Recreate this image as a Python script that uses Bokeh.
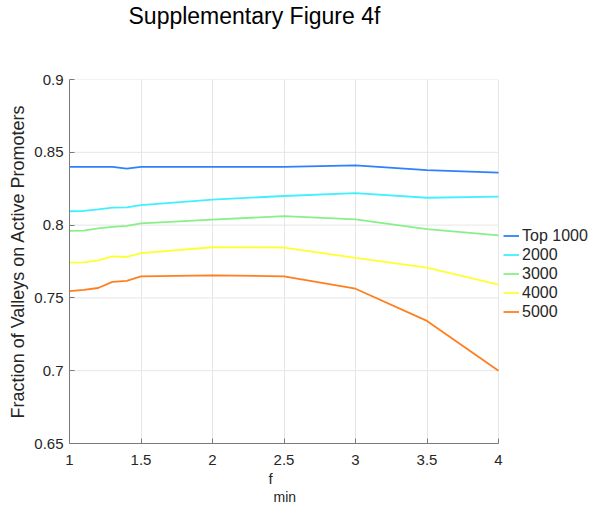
from bokeh.plotting import figure
from bokeh.models import Legend, LegendItem, Title, FixedTicker, Range1d, LinearAxis
from bokeh.embed import file_html
from bokeh.resources import INLINE

fmin = [1.0, 1.1, 1.2, 1.3, 1.4, 1.5, 2.0, 2.5, 3.0, 3.5, 4.0]
top1000 = [0.840, 0.840, 0.840, 0.840, 0.8388, 0.840, 0.840, 0.840, 0.841, 0.8378, 0.836]
top2000 = [0.8095, 0.8097, 0.8108, 0.8120, 0.8122, 0.8137, 0.8175, 0.8200, 0.8220, 0.8188, 0.8195]
top3000 = [0.7960, 0.7962, 0.7977, 0.7988, 0.7995, 0.8012, 0.8037, 0.8062, 0.8040, 0.7973, 0.7930]
top4000 = [0.7742, 0.7744, 0.7758, 0.7785, 0.7781, 0.7808, 0.7848, 0.7846, 0.7775, 0.7708, 0.7592]
top5000 = [0.7546, 0.7555, 0.7568, 0.7610, 0.7617, 0.7648, 0.7655, 0.7648, 0.7563, 0.7342, 0.7000]

series = [top1000, top2000, top3000, top4000, top5000]
names = ["Top 1000", "2000", "3000", "4000", "5000"]
colors = ["#2f80ff", "#40f0ff", "#88f088", "#ffff30", "#ff7f20"]

x_ticks = [1, 1.5, 2, 2.5, 3, 3.5, 4]
x_tick_labels = ["1", "1.5", "2", "2.5", "3", "3.5", "4"]
y_ticks = [0.65, 0.7, 0.75, 0.8, 0.85, 0.9]
y_tick_labels = ["0.65", "0.7", "0.75", "0.8", "0.85", "0.9"]

TITLE = "Supplementary Figure 4f"
X_MIN, X_MAX = 1, 4
Y_MIN, Y_MAX = 0.65, 0.9

FONT = "Liberation Sans"
TXT = "#262626"

W, H = 595, 508
LEFT, TOP, BOTTOM = 69, 79, 65
AXES_W = 429          # pixel width of the data area (x from 1 to 4)
FRAME_W = W - LEFT    # frame extends to the right edge to host the legend
x_end = X_MIN + (X_MAX - X_MIN) * FRAME_W / AXES_W

p = figure(width=W, height=H, output_backend="svg", toolbar_location=None,
           x_range=Range1d(X_MIN, x_end), y_range=Range1d(Y_MIN, Y_MAX),
           min_border_left=LEFT, min_border_right=0, min_border_top=TOP,
           min_border_bottom=BOTTOM)
p.outline_line_color = None
p.background_fill_color = "white"
p.title.visible = False

# horizontal grid lines limited to the data area
p.ygrid.visible = False
p.segment(x0=[X_MIN] * len(y_ticks), x1=[X_MAX] * len(y_ticks), y0=y_ticks, y1=y_ticks,
          line_color="#e6e6e6", line_width=1)
p.xgrid.grid_line_color = "#e6e6e6"

items = []
for s, n, c in zip(series, names, colors):
    r = p.line(fmin, s, line_color=c, line_width=1.8)
    items.append(LegendItem(label=n, renderers=[r]))

for ax in (p.xaxis[0], p.yaxis[0]):
    ax.axis_line_color = "#7a7a7a"
    ax.major_tick_line_color = "#7a7a7a"
    ax.major_tick_in = 5
    ax.major_tick_out = 0
    ax.minor_tick_line_color = None
    ax.major_label_text_font = FONT
    ax.major_label_text_font_size = "15px"
    ax.major_label_text_color = TXT

p.xaxis.bounds = (X_MIN, X_MAX)
p.xaxis.ticker = FixedTicker(ticks=x_ticks)
p.xaxis.major_label_overrides = {t: l for t, l in zip(x_ticks, x_tick_labels)}
p.xaxis.major_label_standoff = 11
p.yaxis.ticker = FixedTicker(ticks=y_ticks)
p.yaxis.major_label_overrides = {t: l for t, l in zip(y_ticks, y_tick_labels)}
p.yaxis.major_label_standoff = 6
p.yaxis.axis_label = "Fraction of Valleys on Active Promoters"
p.yaxis.axis_label_text_font = FONT
p.yaxis.axis_label_text_font_size = "18px"
p.yaxis.axis_label_text_font_style = "normal"
p.yaxis.axis_label_text_color = TXT
p.yaxis.axis_label_standoff = 3

# bare spacer axis above the frame, then the chart title beyond it
spacer_axis = LinearAxis(ticker=FixedTicker(ticks=[]), axis_line_color=None,
                         major_tick_line_color=None, minor_tick_line_color=None,
                         axis_label=" ", axis_label_text_font_size="1px",
                         axis_label_standoff=47)
p.add_layout(spacer_axis, "above")
chart_title = Title(text=TITLE, text_font=FONT, text_font_size="23px",
                    text_font_style="normal", text_color="#000000",
                    align="left", offset=59, standoff=0)
p.add_layout(chart_title, "above")

t_f = Title(text="f", text_font=FONT, text_font_size="15px", text_font_style="normal",
            text_color=TXT, align="left", offset=199, standoff=0)
t_min = Title(text="min", text_font=FONT, text_font_size="14px", text_font_style="normal",
              text_color=TXT, align="left", offset=204, standoff=0)
p.add_layout(t_f, "below")
p.add_layout(t_min, "below")

legend = Legend(items=items, location=(AXES_W + 5, 122), border_line_color=None,
                background_fill_alpha=0, margin=0, padding=6,
                glyph_width=16, glyph_height=19, label_height=19, spacing=0,
                label_standoff=3, label_text_font=FONT, label_text_font_size="16px",
                label_text_color=TXT)
p.add_layout(legend, "center")

open("out.html", "w").write(file_html(p, INLINE))
